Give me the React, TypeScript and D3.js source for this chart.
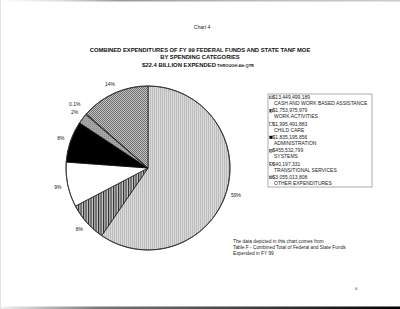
import React from "react";
import * as d3 from "d3";

const categories = [
  "CASH AND WORK BASED ASSISTANCE",
  "WORK ACTIVITIES",
  "CHILD CARE",
  "ADMINISTRATION",
  "SYSTEMS",
  "TRANSITIONAL SERVICES",
  "OTHER EXPENDITURES",
];
const amounts = [13449499189, 1753975979, 1995491883, 1835195856, 455532799, 40197331, 3055013808];
const amountLabels = [
  "$13,449,499,189",
  "$1,753,975,979",
  "$1,995,491,883",
  "$1,835,195,856",
  "$455,532,799",
  "$40,197,331",
  "$3,055,013,808",
];
const percentLabels = ["59%", "8%", "9%", "8%", "2%", "0.1%", "14%"];
const fills = ["url(#pCash)", "url(#pWork)", "#ffffff", "#000000", "url(#pSys)", "url(#pTrans)", "url(#pOther)"];

const titleLines = [
  "COMBINED EXPENDITURES OF FY 99 FEDERAL FUNDS AND STATE TANF MOE",
  "BY SPENDING CATEGORIES",
];
const titleLine3 = "$22.4 BILLION EXPENDED";
const titleLine3Small = " THROUGH 4th QTR";
const noteLines = [
  "The data depicted in this chart comes from",
  "Table F  -  Combined Total of Federal and State Funds",
  "Expended in FY 99",
];

const W = 400;
const H = 309;
const cx = 148;
const cy = 168;
const R = 82;
const font = "Liberation Sans, Arial, sans-serif";

export default function App() {
  const pie = d3.pie<number>().sort(null).value((d) => d)(amounts);
  const arc = d3.arc<d3.PieArcDatum<number>>().innerRadius(0).outerRadius(R);

  const legendX = 268;
  const legendY = 94;
  const legendW = 104;
  const legendH = 93;
  const rowStep = 13.33;

  return (
    <svg
      width={W}
      height={H}
      viewBox={`0 0 ${W} ${H}`}
      style={{ position: "absolute", left: 0, top: 0, background: "#fff" }}
    >
      <defs>
        <pattern id="pCash" width="2" height="2" patternUnits="userSpaceOnUse">
          <rect width="2" height="2" fill="#dadada" />
          <rect width="1" height="2" fill="#bcbcbc" />
        </pattern>
        <pattern id="pWork" width="2.5" height="2" patternUnits="userSpaceOnUse">
          <rect width="2.5" height="2" fill="#c8c8c8" />
          <rect width="1.1" height="2" fill="#2a2a2a" />
        </pattern>
        <pattern id="pSys" width="2" height="2" patternUnits="userSpaceOnUse">
          <rect width="2" height="2" fill="#a6a6a6" />
          <rect width="1" height="1" fill="#8e8e8e" />
        </pattern>
        <pattern id="pTrans" width="2" height="2" patternUnits="userSpaceOnUse">
          <rect width="2" height="2" fill="#dddddd" />
          <rect width="1" height="1" fill="#555" />
        </pattern>
        <pattern id="pOther" width="2" height="2" patternUnits="userSpaceOnUse">
          <rect width="2" height="2" fill="#c4c4c4" />
          <rect width="1" height="1" fill="#6e6e6e" />
          <rect x="1" y="1" width="1" height="1" fill="#6e6e6e" />
        </pattern>
        <linearGradient id="gBottom" x1="0" x2="1" y1="0" y2="0">
          <stop offset="0" stopColor="#f2f2f2" />
          <stop offset="0.25" stopColor="#777" />
          <stop offset="0.7" stopColor="#333" />
          <stop offset="1" stopColor="#000" />
        </linearGradient>
        <linearGradient id="gTop" x1="0" x2="1" y1="0" y2="0">
          <stop offset="0" stopColor="#fff" />
          <stop offset="0.15" stopColor="#ddd" />
          <stop offset="0.3" stopColor="#999" />
          <stop offset="0.6" stopColor="#bbb" />
          <stop offset="1" stopColor="#ccc" />
        </linearGradient>
      </defs>

      {/* page edges */}
      <rect x={0} y={0} width={W} height={1.5} fill="url(#gTop)" />
      <rect x={0} y={306.5} width={W} height={2.5} fill="url(#gBottom)" />
      <rect x={0} y={0} width={1} height={H} fill="#e4e4e4" />

      {/* titles */}
      <text x={202} y={29} textAnchor="middle" fontFamily={font} fontSize={5} fill="#222">
        Chart 4
      </text>
      {titleLines.map((t, i) => (
        <text
          key={t}
          x={200}
          y={51.5 + i * 7.5}
          textAnchor="middle"
          fontFamily={font}
          fontSize={5.8}
          fontWeight="bold"
          fill="#111"
        >
          {t}
        </text>
      ))}
      <text x={198} y={66.5} textAnchor="middle" fontFamily={font} fontWeight="bold" fill="#111">
        <tspan fontSize={5.9}>{titleLine3}</tspan>
        <tspan fontSize={4}>{titleLine3Small}</tspan>
      </text>

      {/* pie */}
      <g transform={`translate(${cx},${cy})`}>
        {pie.map((d, i) => (
          <path key={i} d={arc(d) || ""} fill={fills[i]} stroke="#111" strokeWidth={0.7} strokeLinejoin="round" />
        ))}
        <circle r={R} fill="none" stroke="#333" strokeWidth={0.9} />
        {pie.map((d, i) => {
          const a = (d.startAngle + d.endAngle) / 2;
          const frac = (d.endAngle - d.startAngle) / (2 * Math.PI);
          const rl = frac < 0.01 ? 97 : 92;
          const x = rl * Math.sin(a);
          const y = -rl * Math.cos(a);
          return (
            <text
              key={"l" + i}
              x={x}
              y={y + 1.8}
              textAnchor="middle"
              fontFamily={font}
              fontSize={5}
              fill="#222"
            >
              {percentLabels[i]}
            </text>
          );
        })}
      </g>

      {/* legend */}
      <rect x={legendX} y={legendY} width={legendW} height={legendH} fill="#fff" stroke="#888" strokeWidth={0.7} />
      {categories.map((c, i) => {
        const y = legendY + 3.3 + i * rowStep;
        return (
          <g key={c}>
            <rect
              x={legendX + 1.6}
              y={y - 1.3}
              width={2.8}
              height={2.8}
              fill={fills[i]}
              stroke="#222"
              strokeWidth={0.4}
            />
            <text x={legendX + 4.6} y={y + 1.7} fontFamily={font} fontSize={5} fill="#222">
              {amountLabels[i]}
            </text>
            <text x={legendX + 6} y={y + 7.7} fontFamily={font} fontSize={5} fill="#222">
              {c}
            </text>
          </g>
        );
      })}

      {/* note */}
      {noteLines.map((t, i) => (
        <text key={t} x={233} y={242.5 + i * 6} fontFamily={font} fontSize={4.8} fill="#222">
          {t}
        </text>
      ))}
      <text x={355} y={290} fontFamily={font} fontSize={5} fill="#777">
        ɕ
      </text>
    </svg>
  );
}
